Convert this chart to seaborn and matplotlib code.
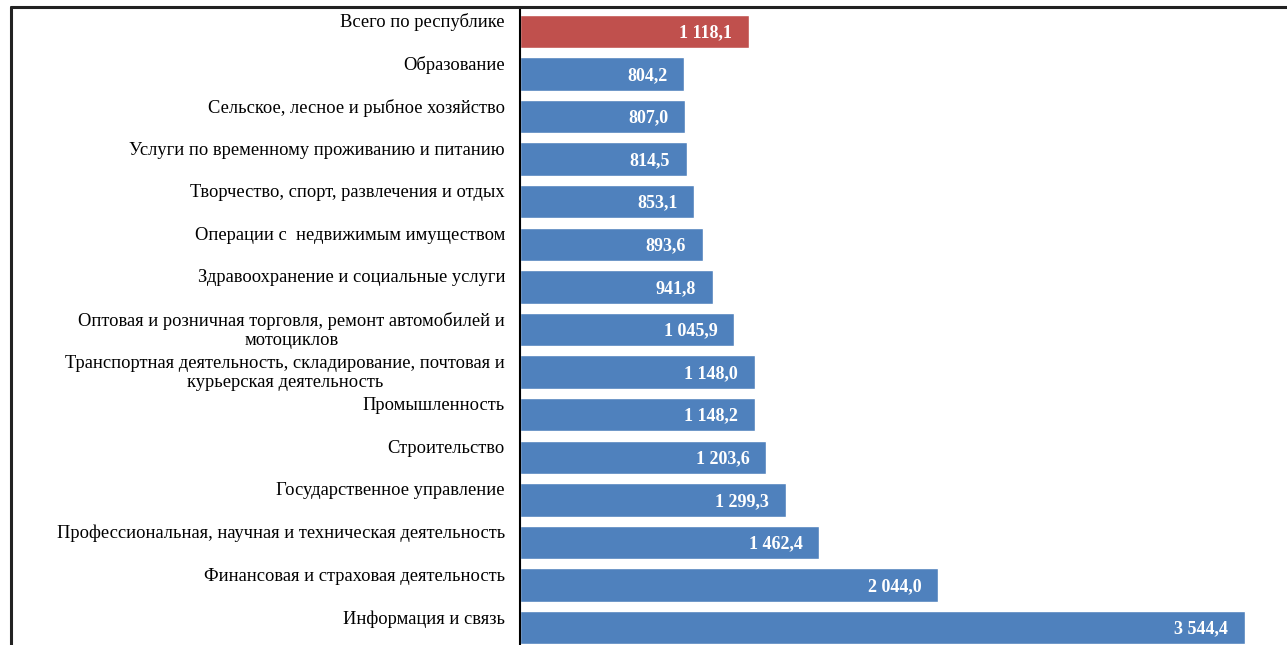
import numpy as np
import pandas as pd
import seaborn as sns
import matplotlib.pyplot as plt
from matplotlib.lines import Line2D

# Data
categories = [
    "Всего по республике",
    "Образование",
    "Сельское, лесное и рыбное хозяйство",
    "Услуги по временному проживанию и питанию",
    "Творчество, спорт, развлечения и отдых",
    "Операции с  недвижимым имуществом",
    "Здравоохранение и социальные услуги",
    "Оптовая и розничная торговля, ремонт автомобилей и\nмотоциклов",
    "Транспортная деятельность, складирование, почтовая и\nкурьерская деятельность",
    "Промышленность",
    "Строительство",
    "Государственное управление",
    "Профессиональная, научная и техническая деятельность",
    "Финансовая и страховая деятельность",
    "Информация и связь",
]
values = [1118.1, 804.2, 807.0, 814.5, 853.1, 893.6, 941.8, 1045.9,
          1148.0, 1148.2, 1203.6, 1299.3, 1462.4, 2044.0, 3544.4]

RED = "#C0504D"
BLUE = "#4F81BD"
colors = [RED] + [BLUE] * (len(categories) - 1)

df = pd.DataFrame({"sector": categories, "value": values})


def fmt(v):
    s = f"{v:,.1f}".replace(",", " ").replace(".", ",")
    return s


sns.set_style("white")
plt.rcParams['font.family'] = ['Liberation Serif', 'DejaVu Serif']

W, H = 1287, 645
fig = plt.figure(figsize=(W / 100, H / 100), dpi=100)
# plot area: top at y=10px, runs slightly past the bottom edge (cropped)
ax = fig.add_axes([520 / W, -4 / H, (W - 520) / W, 639 / H])

sns.barplot(data=df, x="value", y="sector", hue="sector", palette=colors,
            legend=False, orient="h", width=0.78, ax=ax, saturation=1)

ax.set_xlim(0, 3750)
ax.set_ylim(len(categories) - 0.5, -0.5)
ax.set_xlabel("")
ax.set_ylabel("")
ax.set_xticks([])

# category labels
ax.set_yticks(range(len(categories)))
ax.set_yticklabels([])
ax.tick_params(axis="y", which="major", length=0)
ax.set_yticks(np.arange(-0.5, len(categories), 1), minor=True)
ax.tick_params(axis="y", which="minor", length=5, width=1.2, direction="out", color="black")

trans = ax.get_yaxis_transform()
for i, lab in enumerate(categories):
    y = i + 0.02 if "\n" in lab else i - 0.21
    ax.text(-15 / (W - 520), y, lab, transform=trans, ha="right", va="center",
            multialignment="center", fontsize=13.3, linespacing=1.12, color="black")

# value labels inside bar ends
for i, v in enumerate(values):
    ax.annotate(fmt(v), xy=(v, i), xytext=(-12, -1), textcoords="offset points",
                ha="right", va="center", color="white", fontweight="bold", fontsize=13)

for side in ["top", "right", "bottom"]:
    ax.spines[side].set_visible(False)
ax.spines["left"].set_color("black")
ax.spines["left"].set_linewidth(1.5)

# outer frame of the chart area
fig.add_artist(Line2D([11 / W, 11 / W], [0, 1 - 7 / H], color="#222222", lw=2.2))
fig.add_artist(Line2D([11 / W, 1], [1 - 7 / H, 1 - 7 / H], color="#222222", lw=2.2))

fig.savefig("out.png", dpi=100)
